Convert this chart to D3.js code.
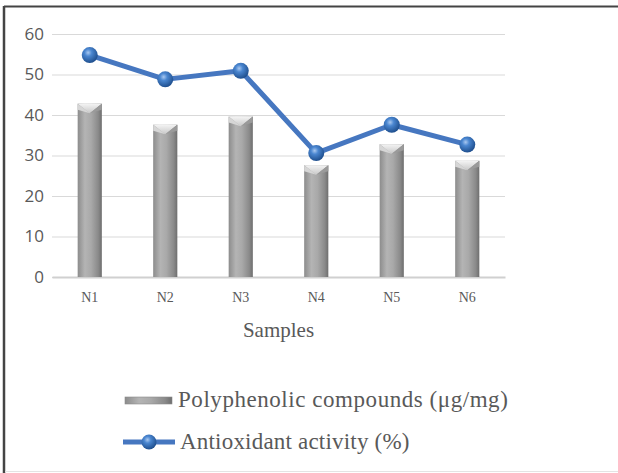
<!DOCTYPE html>
<html>
<head>
<meta charset="utf-8">
<script src="https://cdn.jsdelivr.net/npm/d3@7"></script>
<style>
  body { margin: 0; background: #fff; }
  svg { display: block; }
</style>
</head>
<body>
<div id="chart"></div>
<script>
// data
const samples = ["N1", "N2", "N3", "N4", "N5", "N6"]
const polyphenolic = [42.8, 37.6, 39.6, 27.6, 32.8, 28.7]
const antioxidant = [54.8, 48.8, 50.9, 30.6, 37.6, 32.7]
const yTicks = [0, 10, 20, 30, 40, 50, 60]
const barLabel = "Polyphenolic compounds (\u03bcg/mg)"
const lineLabel = "Antioxidant activity (%)"

function drawChart() {

  // 1. dimensions
  const dimensions = {
    width: 618,
    height: 473,
    margin: { top: 34, right: 113, bottom: 196, left: 52 },
  }
  dimensions.boundedWidth = dimensions.width
    - dimensions.margin.left
    - dimensions.margin.right
  dimensions.boundedHeight = dimensions.height
    - dimensions.margin.top
    - dimensions.margin.bottom

  const serif = "'Liberation Serif', 'Times New Roman', serif"
  const sans = "'Open Sans', 'Noto Sans', sans-serif"

  // 2. canvas
  const wrapper = d3.select("#chart")
    .append("svg")
      .attr("width", dimensions.width)
      .attr("height", dimensions.height)

  const defs = wrapper.append("defs")

  const barGrad = defs.append("linearGradient")
      .attr("id", "barGrad")
      .attr("x1", "0").attr("x2", "1").attr("y1", "0").attr("y2", "0")
  barGrad.append("stop").attr("offset", "0%").attr("stop-color", "#8c8c8c")
  barGrad.append("stop").attr("offset", "30%").attr("stop-color", "#b4b4b4")
  barGrad.append("stop").attr("offset", "55%").attr("stop-color", "#a9a9a9")
  barGrad.append("stop").attr("offset", "85%").attr("stop-color", "#8a8a8a")
  barGrad.append("stop").attr("offset", "100%").attr("stop-color", "#6e6e6e")

  const capGrad = defs.append("linearGradient")
      .attr("id", "capGrad")
      .attr("x1", "0").attr("x2", "0").attr("y1", "0").attr("y2", "1")
  capGrad.append("stop").attr("offset", "0%").attr("stop-color", "#f4f4f4")
  capGrad.append("stop").attr("offset", "100%").attr("stop-color", "#c8c8c8")

  const ballGrad = defs.append("radialGradient")
      .attr("id", "ballGrad")
      .attr("cx", "40%").attr("cy", "35%").attr("r", "65%")
  ballGrad.append("stop").attr("offset", "0%").attr("stop-color", "#a9c8f0")
  ballGrad.append("stop").attr("offset", "35%").attr("stop-color", "#4a86d0")
  ballGrad.append("stop").attr("offset", "100%").attr("stop-color", "#1f4f8e")

  // frame
  wrapper.append("line")
      .attr("x1", 4).attr("x2", 618).attr("y1", 6.5).attr("y2", 6.5)
      .attr("stroke", "#444").attr("stroke-width", 2)
  wrapper.append("line")
      .attr("x1", 4).attr("x2", 4).attr("y1", 6).attr("y2", 473)
      .attr("stroke", "#444").attr("stroke-width", 2.5)
  wrapper.append("line")
      .attr("x1", 5).attr("x2", 618).attr("y1", 471.5).attr("y2", 471.5)
      .attr("stroke", "#e4e4e4").attr("stroke-width", 1)

  const bounds = wrapper.append("g")
      .attr("transform", `translate(${dimensions.margin.left}, ${dimensions.margin.top})`)

  // 3. scales
  const xScale = d3.scaleBand()
    .domain(samples)
    .range([0, dimensions.boundedWidth])

  const yScale = d3.scaleLinear()
    .domain([0, 60])
    .range([dimensions.boundedHeight, 0])

  // 4. grid + axes
  const yAxisGenerator = d3.axisLeft(yScale)
    .tickValues(yTicks)
    .tickSize(-dimensions.boundedWidth)
    .tickPadding(8)

  const yAxis = bounds.append("g").call(yAxisGenerator)
  yAxis.select(".domain").remove()
  yAxis.selectAll(".tick line")
      .attr("stroke", "#d9d9d9")
      .attr("stroke-width", 1)
  yAxis.selectAll(".tick text")
      .attr("fill", "#595959")
      .style("font-family", sans)
      .style("font-size", "17px")

  const xAxisGenerator = d3.axisBottom(xScale)
    .tickSize(0)
    .tickPadding(15)

  const xAxis = bounds.append("g")
      .attr("transform", `translate(0, ${dimensions.boundedHeight})`)
      .call(xAxisGenerator)
  xAxis.select(".domain")
      .attr("stroke", "#d0d0d0")
      .attr("stroke-width", 2)
  xAxis.selectAll(".tick text")
      .attr("fill", "#595959")
      .style("font-family", serif)
      .style("font-size", "14px")

  bounds.append("text")
      .attr("x", dimensions.boundedWidth / 2)
      .attr("y", dimensions.boundedHeight + 60)
      .attr("text-anchor", "middle")
      .attr("fill", "#595959")
      .style("font-family", serif)
      .style("font-size", "21px")
      .text("Samples")

  // 5. bars
  const barWidth = xScale.bandwidth() * 0.32
  const capH = 6
  const barX = i => xScale(samples[i]) + (xScale.bandwidth() - barWidth) / 2

  const barGroups = bounds.selectAll(".bar")
    .data(polyphenolic)
    .enter().append("g")
      .attr("class", "bar")

  barGroups.append("rect")
      .attr("x", (d, i) => barX(i))
      .attr("y", d => yScale(d))
      .attr("width", barWidth)
      .attr("height", d => yScale(0) - yScale(d))
      .attr("fill", "url(#barGrad)")

  // bevelled top cap
  barGroups.append("path")
      .attr("d", (d, i) => {
        const x0 = barX(i), y0 = yScale(d)
        return `M${x0},${y0} L${x0 + barWidth},${y0} L${x0 + barWidth * 0.5},${y0 + capH * 1.6} Z`
      })
      .attr("fill", "url(#capGrad)")
  barGroups.append("path")
      .attr("d", (d, i) => {
        const x0 = barX(i), y0 = yScale(d)
        return `M${x0},${y0} L${x0 + barWidth * 0.5},${y0 + capH * 1.6} L${x0},${y0 + capH} Z`
      })
      .attr("fill", "#d6d6d6")
  barGroups.append("path")
      .attr("d", (d, i) => {
        const x0 = barX(i), y0 = yScale(d)
        return `M${x0 + barWidth},${y0} L${x0 + barWidth * 0.5},${y0 + capH * 1.6} L${x0 + barWidth},${y0 + capH} Z`
      })
      .attr("fill", "#9a9a9a")

  // 6. line + markers
  const lineGenerator = d3.line()
    .x((d, i) => xScale(samples[i]) + xScale.bandwidth() / 2)
    .y(d => yScale(d))

  bounds.append("path")
      .attr("d", lineGenerator(antioxidant))
      .attr("fill", "none")
      .attr("stroke", "#4677c0")
      .attr("stroke-width", 5)
      .attr("stroke-linejoin", "round")

  bounds.selectAll(".dot")
    .data(antioxidant)
    .enter().append("circle")
      .attr("class", "dot")
      .attr("cx", (d, i) => xScale(samples[i]) + xScale.bandwidth() / 2)
      .attr("cy", d => yScale(d))
      .attr("r", 8)
      .attr("fill", "url(#ballGrad)")

  // 7. legend
  const legend = wrapper.append("g")

  legend.append("rect")
      .attr("x", 125).attr("y", 397)
      .attr("width", 47).attr("height", 7)
      .attr("fill", "url(#barGrad)")
      .attr("stroke", "#8a8a8a")
      .attr("stroke-width", 0.6)
  legend.append("text")
      .attr("x", 178).attr("y", 407)
      .attr("fill", "#595959")
      .style("font-family", serif)
      .style("font-size", "23px")
      .style("letter-spacing", "0.55px")
      .text(barLabel)

  legend.append("line")
      .attr("x1", 123).attr("x2", 175)
      .attr("y1", 442).attr("y2", 442)
      .attr("stroke", "#4677c0")
      .attr("stroke-width", 5)
  legend.append("circle")
      .attr("cx", 149).attr("cy", 442)
      .attr("r", 7.5)
      .attr("fill", "url(#ballGrad)")
  legend.append("text")
      .attr("x", 180).attr("y", 449)
      .attr("fill", "#595959")
      .style("font-family", serif)
      .style("font-size", "23px")
      .style("letter-spacing", "0.2px")
      .text(lineLabel)
}
drawChart()
</script>
</body>
</html>
